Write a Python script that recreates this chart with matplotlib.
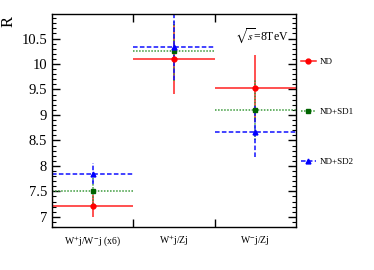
import numpy as np
import matplotlib.pyplot as plt
from matplotlib.lines import Line2D
from matplotlib.ticker import MultipleLocator, FixedLocator

plt.rcParams['font.family'] = ['Liberation Serif', 'DejaVu Serif']
plt.rcParams['mathtext.fontset'] = 'stix'

labels = [r'W$^{+}$j/W$^{-}$j (x6)', r'W$^{+}$j/Zj', r'W$^{-}$j/Zj']
nd = [7.21, 10.10, 9.52]
nd_err = [0.21, 0.68, 0.65]
sd1 = [7.50, 10.26, 9.10]
sd1_err = [0.30, 0.60, 0.60]
sd2 = [7.85, 10.34, 8.67]
sd2_err = [0.20, 0.65, 0.50]

x = np.arange(len(labels))

fig = plt.figure(figsize=(3.74, 2.70), dpi=100)
ax = fig.add_axes([0.139, 0.159, 0.652, 0.789])

series = [
    (nd, nd_err, 'ND', '#ff2020', '#ff0000', 'o', '-'),
    (sd1, sd1_err, 'ND+SD1', '#3a9a3a', '#006400', 's', (0, (1, 1))),
    (sd2, sd2_err, 'ND+SD2', '#1010ff', '#0000ff', '^', (0, (3, 1.5))),
]
handles = []
for y, yerr, name, lc, mc, m, ls in series:
    cont = ax.errorbar(x, y, xerr=0.5, yerr=yerr, fmt=m, color=lc, mfc=mc, mec=mc,
                       ms=3.5, elinewidth=1.1, capsize=0)
    for bl in cont.lines[2]:
        bl.set_linestyle(ls)
    handles.append(Line2D([], [], color=lc, ls=ls, lw=1.1, marker=m, ms=3.5,
                          mfc=mc, mec=mc, label=name))

ax.set_xlim(-0.5, 2.5)
ax.set_ylim(6.8, 10.98)
ax.set_xticks(x)
ax.set_xticklabels(labels, fontsize=7)
ax.tick_params(axis='x', which='major', length=0, pad=5)
ax.xaxis.set_minor_locator(FixedLocator([0.5, 1.5]))
ax.tick_params(axis='x', which='minor', direction='in', length=6, top=True, width=1)
ax.yaxis.set_major_locator(MultipleLocator(0.5))
ax.yaxis.set_minor_locator(MultipleLocator(0.1))
ax.tick_params(axis='y', which='major', direction='in', length=6, right=True, labelsize=10.5, width=1)
ax.tick_params(axis='y', which='minor', direction='in', length=3, right=True, width=0.8)
ax.set_yticklabels([f'{v:g}' for v in ax.get_yticks()])
for s in ax.spines.values():
    s.set_linewidth(1)

ax.text(-0.178, 0.965, 'R', transform=ax.transAxes, rotation=90, ha='center', va='center', fontsize=12)
ax.text(0.97, 0.9, r'$\sqrt{s}$=8TeV', transform=ax.transAxes, ha='right', va='center', fontsize=8.5)

ax.legend(handles=handles, loc='upper left', bbox_to_anchor=(1.0, 0.82), frameon=False,
          fontsize=6.5, labelspacing=4.6, handlelength=1.6, handletextpad=0.5, borderaxespad=0.2)

fig.savefig('out.png', dpi=100)
